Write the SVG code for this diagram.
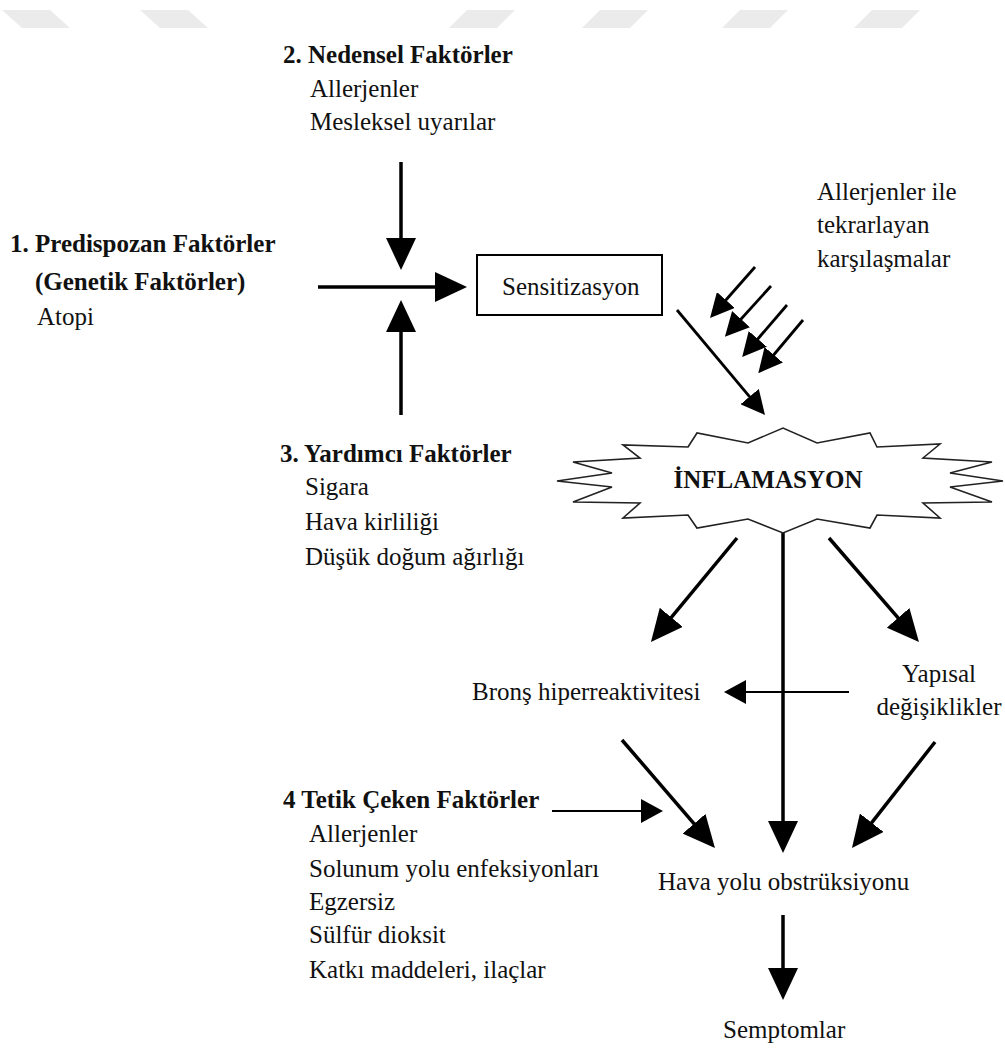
<svg xmlns="http://www.w3.org/2000/svg" width="1005" height="1048" viewBox="0 0 1005 1048">
<style>
.t{font-family:'Liberation Serif','Times New Roman',Times,'DejaVu Serif',serif;font-size:25px;fill:#111}
.b{font-weight:bold}
.wm{fill:#ebebeb}
.thick{stroke:#000;stroke-width:3.5;fill:none}
.mid{stroke:#000;stroke-width:2.8;fill:none}
.thin{stroke:#000;stroke-width:2;fill:none}
.box{fill:#fff;stroke:#000;stroke-width:2}
.star{fill:#fff;stroke:#222;stroke-width:1.6;stroke-linejoin:miter}
</style>
<defs>
<marker id="hb" markerUnits="userSpaceOnUse" viewBox="0 0 32 30" markerWidth="32" markerHeight="30" refX="12" refY="15" orient="auto"><path d="M0,0L32,15L0,30Z" fill="#000"/></marker>
<marker id="hm" markerUnits="userSpaceOnUse" viewBox="0 0 24 24" markerWidth="24" markerHeight="24" refX="10" refY="12" orient="auto"><path d="M0,0L24,12L0,24Z" fill="#000"/></marker>
<marker id="hs" markerUnits="userSpaceOnUse" viewBox="0 0 22 24" markerWidth="22" markerHeight="24" refX="10" refY="12" orient="auto"><path d="M0,0L22,12L0,24Z" fill="#000"/></marker>
</defs>
<rect width="1005" height="1048" fill="#fff"/>
<g id="watermark">
<polygon class="wm" points="2,10 50,10 70,28 22,28"/>
<polygon class="wm" points="140,10 188,10 208,28 160,28"/>
<polygon class="wm" points="467,10 515,10 497,28 449,28"/>
<polygon class="wm" points="600,10 648,10 630,28 582,28"/>
<polygon class="wm" points="740,10 788,10 770,28 722,28"/>
<polygon class="wm" points="872,10 920,10 902,28 854,28"/>
</g>
<g id="connectors">
<line class="thick" x1="401" y1="162" x2="401" y2="250" marker-end="url(#hb)"/>
<line class="thick" x1="401" y1="415" x2="401" y2="320" marker-end="url(#hb)"/>
<line class="thick" x1="318" y1="287" x2="447" y2="287" marker-end="url(#hb)"/>
<line class="mid" x1="677" y1="310" x2="756" y2="404.3" marker-end="url(#hm)"/>
<line class="mid" x1="755" y1="267" x2="719.3" y2="307.5" marker-end="url(#hm)"/>
<line class="mid" x1="771" y1="286" x2="734.3" y2="326.5" marker-end="url(#hm)"/>
<line class="mid" x1="787" y1="305" x2="751.3" y2="346.5" marker-end="url(#hm)"/>
<line class="mid" x1="803" y1="320" x2="767.3" y2="362.5" marker-end="url(#hm)"/>
<line class="thick" x1="737" y1="538" x2="663.7" y2="626.6" marker-end="url(#hb)"/>
<line class="thick" x1="829" y1="538" x2="905.9" y2="626.9" marker-end="url(#hb)"/>
<line class="thick" x1="783" y1="533" x2="783" y2="833" marker-end="url(#hb)"/>
<line class="thin" x1="849" y1="692" x2="736" y2="692" marker-end="url(#hs)"/>
<line class="thick" x1="622" y1="740" x2="701.9" y2="832.8" marker-end="url(#hb)"/>
<line class="thick" x1="935" y1="742" x2="864.3" y2="832.2" marker-end="url(#hb)"/>
<line class="thin" x1="552" y1="811" x2="651" y2="811" marker-end="url(#hs)"/>
<line class="thick" x1="783" y1="915" x2="783" y2="980" marker-end="url(#hb)"/>
</g>
<g id="nedensel">
<text class="t b" x="283" y="63" font-family="Liberation Serif, serif">2. Nedensel Faktörler</text>
<text class="t" x="310" y="97" font-family="Liberation Serif, serif">Allerjenler</text>
<text class="t" x="310" y="130" font-family="Liberation Serif, serif">Mesleksel uyarılar</text>
</g>
<g id="predispozan">
<text class="t b" x="10" y="252">1. Predispozan Faktörler</text>
<text class="t b" x="35" y="290">(Genetik Faktörler)</text>
<text class="t" x="37" y="325">Atopi</text>
</g>
<g id="sensitizasyon">
<rect class="box" x="477" y="255" width="185" height="60"/>
<text class="t" x="502" y="295">Sensitizasyon</text>
</g>
<g id="tekrarlayan">
<text class="t" x="817" y="200">Allerjenler ile</text>
<text class="t" x="817" y="233">tekrarlayan</text>
<text class="t" x="817" y="267">karşılaşmalar</text>
</g>
<g id="inflamasyon">
<polygon class="star" points="688,447 697,433 748,443 783,428 817,443 870,433 877,447 940,444 923,458 992,462 950,473 1003,481 950,487 992,502 923,503 940,518 877,515 870,528 817,519 783,533 748,519 697,528 688,515 623,518 640,503 573,502 612,487 557,481 612,473 573,462 640,458 623,445"/>
<text class="t b" x="768" y="488" text-anchor="middle">İNFLAMASYON</text>
</g>
<g id="yardimci">
<text class="t b" x="280" y="462">3. Yardımcı Faktörler</text>
<text class="t" x="305" y="495">Sigara</text>
<text class="t" x="305" y="530">Hava kirliliği</text>
<text class="t" x="305" y="565">Düşük doğum ağırlığı</text>
</g>
<g id="brons">
<text class="t" x="472" y="700">Bronş hiperreaktivitesi</text>
</g>
<g id="yapisal">
<text class="t" x="939" y="682" text-anchor="middle">Yapısal</text>
<text class="t" x="939" y="715" text-anchor="middle">değişiklikler</text>
</g>
<g id="tetik">
<text class="t b" x="283" y="808">4 Tetik Çeken Faktörler</text>
<text class="t" x="309" y="842">Allerjenler</text>
<text class="t" x="309" y="877">Solunum yolu enfeksiyonları</text>
<text class="t" x="309" y="910">Egzersiz</text>
<text class="t" x="309" y="943">Sülfür dioksit</text>
<text class="t" x="309" y="978">Katkı maddeleri, ilaçlar</text>
</g>
<g id="obstruksiyon">
<text class="t" x="658" y="890">Hava yolu obstrüksiyonu</text>
</g>
<g id="semptomlar">
<text class="t" x="723" y="1038">Semptomlar</text>
</g>
</svg>
